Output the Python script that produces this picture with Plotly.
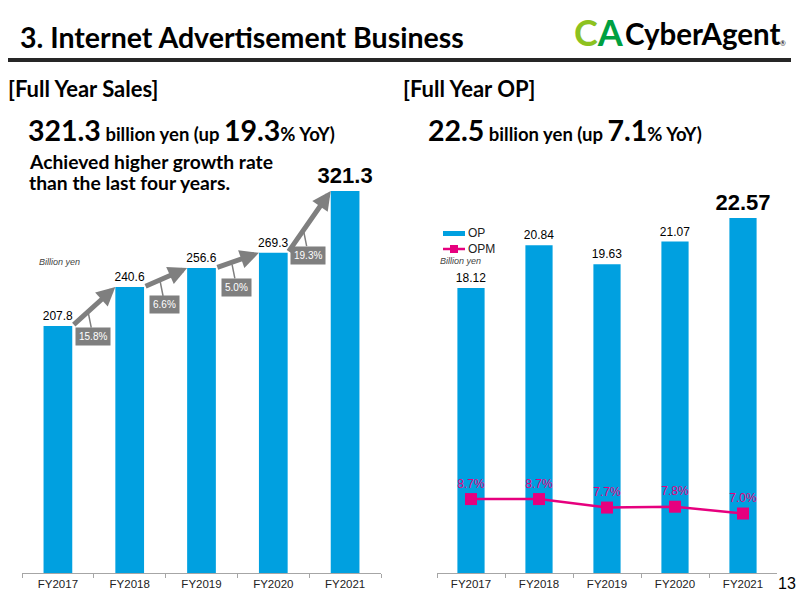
import plotly.graph_objects as go

# ---------------- data ----------------
years = ["FY2017", "FY2018", "FY2019", "FY2020", "FY2021"]
sales = [207.8, 240.6, 256.6, 269.3, 321.3]
growth = ["15.8%", "6.6%", "5.0%", "19.3%"]
op = [18.12, 20.84, 19.63, 21.07, 22.57]
opm = [8.7, 8.7, 7.7, 7.8, 7.0]
opm_labels = ["8.7%", "8.7%", "7.7%", "7.8%", "7.0%"]

BLUE = "#00A0E0"
MAG = "#E6007E"
GRAY = "#7F7F7F"
FONT = "Lato"
ARIAL = "Liberation Sans"

W, H = 800, 600
def px(x):
    return x / W
def py(y):
    return 1 - y / H

fig = go.Figure()

# left chart: sales
sales_text = [f"{v:.1f}" for v in sales[:-1]] + [f"<b>{sales[-1]:.1f}</b>"]
sales_sizes = [12] * (len(sales) - 1) + [22]
fig.add_trace(go.Bar(
    x=years, y=sales, xaxis="x", yaxis="y", name="Sales",
    marker=dict(color=BLUE, line=dict(width=0)),
    text=sales_text, textposition="outside", constraintext="none",
    textfont=dict(size=sales_sizes, color="#000", family=ARIAL),
    cliponaxis=False, showlegend=False, width=0.4,
))

# right chart: OP bars
op_text = [f"{v:.2f}" for v in op[:-1]] + [f"<b>{op[-1]:.2f}</b>"]
op_sizes = [12] * (len(op) - 1) + [22]
fig.add_trace(go.Bar(
    x=years, y=op, xaxis="x2", yaxis="y2", name="OP",
    marker=dict(color=BLUE, line=dict(width=0)),
    text=op_text, textposition="outside", constraintext="none",
    textfont=dict(size=op_sizes, color="#000", family=ARIAL),
    cliponaxis=False, width=0.4, showlegend=False,
))

# OPM line
fig.add_trace(go.Scatter(
    x=years, y=opm, xaxis="x2", yaxis="y3", name="OPM",
    mode="lines+markers+text",
    line=dict(color=MAG, width=2.5),
    marker=dict(symbol="square", size=12, color=MAG),
    text=opm_labels, textposition="top center",
    textfont=dict(size=12, color=MAG, family=ARIAL),
    cliponaxis=False, showlegend=False,
))

annotations = []
shapes = []

# growth arrows and callouts
for i in range(len(sales) - 1):
    annotations.append(dict(
        x=i + 0.8, y=sales[i + 1], ax=i + 0.2, ay=sales[i],
        xref="x", yref="y", axref="x", ayref="y",
        text="", showarrow=True, arrowhead=2, arrowsize=0.75,
        arrowwidth=5, arrowcolor=GRAY, standoff=0, startstandoff=0,
    ))
    t = 0.42
    tip_y = sales[i] + (t - 0.2) / 0.6 * (sales[i + 1] - sales[i])
    annotations.append(dict(
        x=i + t, y=tip_y, xref="x", yref="y",
        ax=5, ay=25, text=growth[i], showarrow=True, arrowhead=0,
        arrowwidth=1.5, arrowcolor=GRAY, standoff=2,
        bgcolor=GRAY, borderpad=3,
        font=dict(size=10, color="white", family=ARIAL),
    ))

def txt(x, y, s, size, color="#000", xanchor="left", italic=False, family=FONT):
    if italic:
        s = f"<i>{s}</i>"
    annotations.append(dict(
        x=px(x), y=py(y), xref="paper", yref="paper", text=s,
        showarrow=False, xanchor=xanchor, yanchor="middle",
        font=dict(size=size, color=color, family=family),
    ))

# titles
txt(18, 37, "<b>3. Internet Advertisement Business</b>", 28.5)
txt(6, 88, "<b>[Full Year Sales]</b>", 22)
txt(401, 88, "<b>[Full Year OP]</b>", 22)
txt(26, 130, "<b><span style='font-size:28.5px'>321.3</span> billion yen (up "
             "<span style='font-size:28.5px'>19.3</span>% YoY)</b>", 18.5)
txt(426, 130, "<b><span style='font-size:28.5px'>22.5</span> billion yen (up "
              "<span style='font-size:28.5px'>7.1</span>% YoY)</b>", 18.5)
txt(27, 161, "<b>Achieved higher growth rate</b>", 19.3)
txt(27, 183, "<b>than the last four years.</b>", 19.3)
txt(37, 262, "Billion yen", 9, color="#444", italic=True, family=ARIAL)
txt(438, 261, "Billion yen", 9, color="#444", italic=True, family=ARIAL)
txt(798, 583, "13", 16, xanchor="right", family=ARIAL)

# custom legend (right chart)
shapes.append(dict(type="rect", xref="paper", yref="paper",
                   x0=px(443), x1=px(465), y0=py(236), y1=py(231),
                   fillcolor=BLUE, line=dict(width=0)))
shapes.append(dict(type="line", xref="paper", yref="paper",
                   x0=px(443), x1=px(465), y0=py(249), y1=py(249),
                   line=dict(color=MAG, width=2.5)))
shapes.append(dict(type="rect", xref="paper", yref="paper",
                   x0=px(450), x1=px(458), y0=py(253), y1=py(245),
                   fillcolor=MAG, line=dict(width=0)))
txt(466, 233, "OP", 12, color="#222", family=ARIAL)
txt(466, 249, "OPM", 12, color="#222", family=ARIAL)

# logo
txt(572, 32, "<b><span style='color:#8DC21F'>C</span><span style='color:#00A040'>A</span></b>", 36)
txt(623, 34, "<b>CyberAgent</b>", 29.5)
txt(788, 43, "®", 7, xanchor="right")

# header rule
shapes.append(dict(type="line", xref="paper", yref="paper",
                   x0=px(8), x1=px(791), y0=py(60), y1=py(60),
                   line=dict(color="#262626", width=4)))

axis_common = dict(showline=True, linecolor="#A6A6A6", linewidth=1, ticks="outside",
                   tickson="boundaries", ticklen=4, tickcolor="#A6A6A6",
                   tickfont=dict(size=11.5, color="#222", family=ARIAL),
                   showgrid=False, zeroline=False)

fig.update_layout(
    width=W, height=H,
    margin=dict(l=0, r=0, t=0, b=0),
    paper_bgcolor="white", plot_bgcolor="white",
    annotations=annotations, shapes=shapes,
    barmode="group", showlegend=False,
    xaxis=dict(domain=[px(22), px(381)], anchor="y", **axis_common),
    yaxis=dict(domain=[py(573), py(160)], range=[0, 347.4], visible=False),
    xaxis2=dict(domain=[px(437), px(777)], anchor="y2", **axis_common),
    yaxis2=dict(domain=[py(573), py(160)], range=[0, 26.26], visible=False),
    yaxis3=dict(overlaying="y2", range=[0, 48.6], visible=False),
)

fig.write_html("out.html")
